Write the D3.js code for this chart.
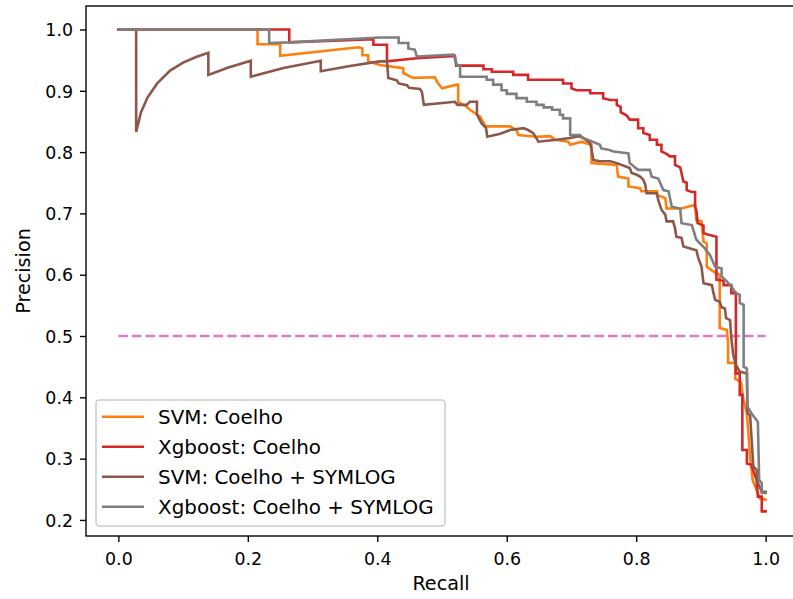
<!DOCTYPE html>
<html>
<head>
<meta charset="utf-8">
<script src="https://cdn.jsdelivr.net/npm/d3@7"></script>
<style>
  html, body { margin: 0; padding: 0; background: #fff; }
  svg { display: block; }
  text { font-family: "DejaVu Sans", sans-serif; fill: #000; }
</style>
</head>
<body>
<div id="chart"></div>
<script>
// ---- data (recall, precision) ----
const seriesNames = ["SVM: Coelho", "Xgboost: Coelho", "SVM: Coelho + SYMLOG", "Xgboost: Coelho + SYMLOG"];
const seriesColors = ["#ff7f0e", "#d62728", "#8c564b", "#7f7f7f"];

const svmCoelho = [
  [0,1.0],[0.215,1.0],[0.215,0.976],[0.25,0.976],[0.25,0.957],[0.371,0.971],[0.377,0.969],[0.377,0.958],
  [0.386,0.958],[0.386,0.948],[0.404,0.942],[0.440,0.937],[0.440,0.929],[0.451,0.923],[0.456,0.921],
  [0.489,0.922],[0.492,0.915],[0.500,0.904],[0.523,0.910],[0.525,0.910],[0.525,0.882],[0.538,0.874],
  [0.543,0.869],[0.559,0.858],[0.567,0.842],[0.605,0.842],[0.615,0.836],[0.618,0.828],[0.646,0.825],
  [0.667,0.826],[0.675,0.820],[0.695,0.817],[0.698,0.812],[0.716,0.817],[0.729,0.812],[0.731,0.812],
  [0.731,0.782],[0.770,0.779],[0.772,0.760],[0.788,0.757],[0.788,0.744],[0.806,0.741],[0.808,0.736],
  [0.832,0.736],[0.832,0.730],[0.845,0.725],[0.847,0.708],[0.870,0.708],[0.891,0.714],[0.893,0.689],
  [0.901,0.687],[0.904,0.654],[0.909,0.651],[0.909,0.613],[0.924,0.602],[0.929,0.600],[0.929,0.513],
  [0.940,0.510],[0.942,0.488],[0.942,0.456],[0.953,0.456],[0.953,0.430],[0.962,0.425],[0.965,0.400],
  [0.971,0.374],[0.976,0.303],[0.980,0.265],[0.991,0.235],[1.0,0.233]
];

const xgbCoelho = [
  [0,1.0],[0.264,1.0],[0.264,0.979],[0.394,0.984],[0.394,0.975],[0.415,0.975],[0.415,0.948],[0.461,0.953],
  [0.520,0.957],[0.522,0.941],[0.564,0.941],[0.564,0.935],[0.577,0.935],[0.577,0.931],[0.610,0.931],
  [0.610,0.926],[0.633,0.926],[0.633,0.918],[0.687,0.918],[0.687,0.912],[0.700,0.912],[0.700,0.904],
  [0.708,0.901],[0.729,0.901],[0.729,0.896],[0.749,0.896],[0.749,0.888],[0.760,0.885],[0.770,0.885],
  [0.770,0.877],[0.776,0.874],[0.776,0.865],[0.785,0.860],[0.790,0.853],[0.803,0.853],[0.803,0.839],
  [0.811,0.839],[0.811,0.831],[0.821,0.828],[0.821,0.820],[0.832,0.820],[0.832,0.812],[0.839,0.812],
  [0.839,0.801],[0.847,0.797],[0.852,0.793],[0.860,0.793],[0.860,0.779],[0.868,0.775],[0.870,0.766],
  [0.873,0.752],[0.878,0.750],[0.878,0.738],[0.886,0.735],[0.891,0.735],[0.891,0.711],[0.893,0.705],
  [0.895,0.684],[0.904,0.680],[0.904,0.668],[0.912,0.665],[0.924,0.662],[0.924,0.592],[0.935,0.590],
  [0.935,0.583],[0.947,0.583],[0.947,0.570],[0.954,0.570],[0.954,0.439],[0.960,0.439],[0.960,0.404],
  [0.964,0.404],[0.964,0.314],[0.971,0.314],[0.971,0.292],[0.978,0.290],[0.986,0.265],[0.988,0.238],
  [0.994,0.238],[0.994,0.214],[1.0,0.214]
];

const svmSymlog = [
  [0,1.0],[0.0275,1.0],[0.0275,0.833],[0.035,0.865],[0.045,0.889],[0.06,0.912],[0.08,0.933],[0.10,0.946],
  [0.12,0.955],[0.139,0.962],[0.139,0.926],[0.17,0.938],[0.2046,0.949],[0.2046,0.923],[0.255,0.937],
  [0.3127,0.949],[0.3127,0.932],[0.36,0.941],[0.404,0.948],[0.415,0.948],[0.417,0.921],[0.430,0.917],
  [0.433,0.912],[0.446,0.909],[0.449,0.905],[0.466,0.903],[0.469,0.898],[0.472,0.877],[0.520,0.882],
  [0.524,0.877],[0.538,0.877],[0.543,0.882],[0.554,0.882],[0.554,0.861],[0.561,0.847],[0.568,0.839],
  [0.570,0.825],[0.590,0.830],[0.605,0.836],[0.626,0.839],[0.633,0.836],[0.641,0.831],[0.649,0.817],
  [0.677,0.820],[0.698,0.823],[0.711,0.826],[0.718,0.823],[0.729,0.815],[0.731,0.804],[0.734,0.787],
  [0.744,0.785],[0.760,0.785],[0.770,0.782],[0.783,0.777],[0.790,0.774],[0.793,0.766],[0.801,0.763],
  [0.806,0.760],[0.811,0.755],[0.814,0.747],[0.816,0.733],[0.832,0.733],[0.834,0.722],[0.839,0.706],
  [0.845,0.698],[0.847,0.687],[0.857,0.687],[0.860,0.676],[0.862,0.662],[0.870,0.660],[0.873,0.646],
  [0.893,0.640],[0.896,0.627],[0.901,0.613],[0.904,0.586],[0.917,0.583],[0.919,0.572],[0.922,0.559],
  [0.929,0.556],[0.932,0.547],[0.937,0.545],[0.939,0.529],[0.945,0.526],[0.947,0.496],[0.950,0.469],
  [0.954,0.453],[0.960,0.442],[0.971,0.439],[0.972,0.374],[0.976,0.371],[0.981,0.287],[0.986,0.282],
  [0.988,0.260],[0.994,0.246],[1.0,0.246]
];

const xgbSymlog = [
  [0,1.0],[0.233,1.0],[0.233,0.978],[0.264,0.979],[0.404,0.987],[0.433,0.987],[0.433,0.978],[0.448,0.978],
  [0.448,0.969],[0.458,0.967],[0.461,0.956],[0.518,0.959],[0.523,0.942],[0.528,0.940],[0.528,0.923],
  [0.569,0.923],[0.569,0.918],[0.579,0.918],[0.579,0.910],[0.592,0.910],[0.592,0.901],[0.600,0.901],
  [0.600,0.895],[0.615,0.895],[0.615,0.888],[0.631,0.888],[0.631,0.882],[0.646,0.882],[0.646,0.877],
  [0.657,0.877],[0.657,0.873],[0.670,0.873],[0.670,0.869],[0.682,0.869],[0.682,0.861],[0.687,0.861],
  [0.687,0.855],[0.698,0.855],[0.698,0.828],[0.713,0.828],[0.718,0.823],[0.726,0.820],[0.744,0.812],
  [0.746,0.806],[0.757,0.804],[0.765,0.801],[0.788,0.798],[0.790,0.782],[0.796,0.777],[0.803,0.771],
  [0.821,0.771],[0.824,0.760],[0.834,0.757],[0.842,0.738],[0.850,0.736],[0.855,0.711],[0.868,0.708],
  [0.870,0.684],[0.886,0.681],[0.893,0.657],[0.906,0.643],[0.914,0.632],[0.922,0.613],[0.932,0.610],
  [0.932,0.597],[0.940,0.589],[0.947,0.581],[0.954,0.570],[0.960,0.567],[0.960,0.554],[0.966,0.551],
  [0.966,0.450],[0.971,0.447],[0.972,0.385],[0.978,0.374],[0.988,0.360],[0.990,0.265],[0.994,0.260],
  [0.994,0.244],[1.0,0.244]
];

const baselineValue = 0.5;
const baselineRange = [0, 1];
const xTicks = [0.0, 0.2, 0.4, 0.6, 0.8, 1.0];
const yTicks = [0.2, 0.3, 0.4, 0.5, 0.6, 0.7, 0.8, 0.9, 1.0];
const xLabel = "Recall";
const yLabel = "Precision";

// ---- layout ----
const W = 793, H = 599;
const mLeft = 86, mRight = 798, mTop = 6, mBottom = 536;

const x = d3.scaleLinear().domain([-0.05, 1.05]).range([mLeft, mRight]);
const y = d3.scaleLinear().domain([0.1738, 1.0383]).range([mBottom, mTop]);

const svg = d3.select("#chart").append("svg")
  .attr("width", W).attr("height", H).attr("viewBox", `0 0 ${W} ${H}`);

svg.append("defs").append("clipPath").attr("id", "plotclip")
  .append("rect").attr("x", mLeft).attr("y", mTop).attr("width", mRight - mLeft).attr("height", mBottom - mTop);

const plot = svg.append("g").attr("clip-path", "url(#plotclip)");

// baseline dashed line
plot.append("line")
  .attr("x1", x(baselineRange[0])).attr("x2", x(baselineRange[1]))
  .attr("y1", y(baselineValue)).attr("y2", y(baselineValue))
  .attr("stroke", "#e377c2").attr("stroke-width", 2.58)
  .attr("stroke-dasharray", "9.5,4.1");

const line = d3.line().x(d => x(d[0])).y(d => y(d[1]));
const allSeries = [svmCoelho, xgbCoelho, svmSymlog, xgbSymlog];
allSeries.forEach((s, i) => {
  plot.append("path").datum(s)
    .attr("d", line)
    .attr("fill", "none")
    .attr("stroke", seriesColors[i])
    .attr("stroke-width", 2.58)
    .attr("stroke-linejoin", "miter")
    .attr("stroke-linecap", "square");
});

// axes
const fmt = d3.format(".1f");
const xAxis = svg.append("g").attr("transform", `translate(0,${mBottom})`)
  .call(d3.axisBottom(x).tickValues(xTicks).tickFormat(fmt).tickSize(6).tickSizeOuter(0).tickPadding(6));
const yAxis = svg.append("g").attr("transform", `translate(${mLeft},0)`)
  .call(d3.axisLeft(y).tickValues(yTicks).tickFormat(fmt).tickSize(6).tickSizeOuter(0).tickPadding(7));
[xAxis, yAxis].forEach(a => {
  a.select(".domain").remove();
  a.selectAll(".tick line").attr("stroke", "#000").attr("stroke-width", 1.38);
  a.selectAll(".tick text").attr("fill", "#000")
    .style("font-family", '"DejaVu Sans", sans-serif').style("font-size", "17.4px");
});
xAxis.selectAll(".tick text").attr("dy", null).attr("y", 28.5);
yAxis.selectAll(".tick text").attr("dy", "0.36em");

// spines
svg.append("rect")
  .attr("x", mLeft).attr("y", mTop).attr("width", mRight - mLeft).attr("height", mBottom - mTop)
  .attr("fill", "none").attr("stroke", "#000").attr("stroke-width", 1.38);

// axis labels
svg.append("text").attr("x", 441).attr("y", 590)
  .attr("text-anchor", "middle").style("font-size", "19.2px").text(xLabel);
svg.append("text").attr("transform", `translate(30,${(mTop + mBottom) / 2}) rotate(-90)`)
  .attr("text-anchor", "middle").style("font-size", "19.2px").text(yLabel);

// legend
const lg = svg.append("g");
lg.append("rect").attr("x", 96).attr("y", 400).attr("width", 349).attr("height", 126)
  .attr("rx", 3.4).attr("ry", 3.4)
  .attr("fill", "#fff").attr("fill-opacity", 0.8)
  .attr("stroke", "#cccccc").attr("stroke-width", 1.5);
seriesNames.forEach((name, i) => {
  const yy = 416.7 + i * 30;
  lg.append("line").attr("x1", 102).attr("x2", 144).attr("y1", yy).attr("y2", yy)
    .attr("stroke", seriesColors[i]).attr("stroke-width", 2.58);
  lg.append("text").attr("x", 158).attr("y", yy).attr("dy", "0.37em")
    .style("font-size", "19.9px").text(name);
});
</script>
</body>
</html>
